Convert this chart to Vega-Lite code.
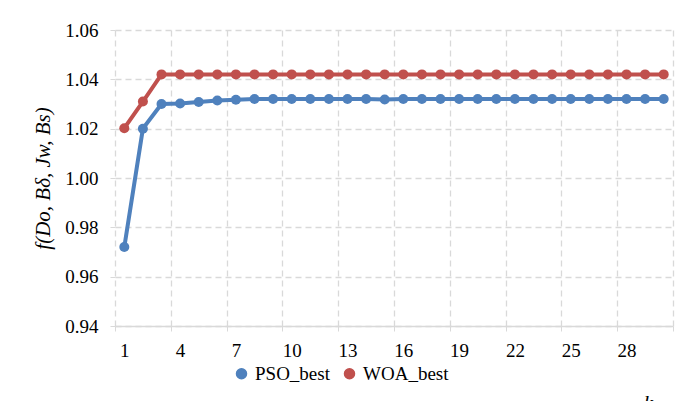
{
  "$schema": "https://vega.github.io/schema/vega-lite/v6.json",
  "width": 558,
  "height": 296,
  "autosize": {"type": "none"},
  "padding": {"left": 115, "top": 30, "right": 9, "bottom": 75},
  "background": "white",
  "config": {"view": {"stroke": null}},
  "data": {
    "values": [
      {"k": 1, "series": "PSO_best", "f": 0.972},
      {"k": 2, "series": "PSO_best", "f": 1.020},
      {"k": 3, "series": "PSO_best", "f": 1.030},
      {"k": 4, "series": "PSO_best", "f": 1.0302},
      {"k": 5, "series": "PSO_best", "f": 1.0308},
      {"k": 6, "series": "PSO_best", "f": 1.0314},
      {"k": 7, "series": "PSO_best", "f": 1.0317},
      {"k": 8, "series": "PSO_best", "f": 1.032},
      {"k": 9, "series": "PSO_best", "f": 1.032},
      {"k": 10, "series": "PSO_best", "f": 1.032},
      {"k": 11, "series": "PSO_best", "f": 1.032},
      {"k": 12, "series": "PSO_best", "f": 1.032},
      {"k": 13, "series": "PSO_best", "f": 1.032},
      {"k": 14, "series": "PSO_best", "f": 1.032},
      {"k": 15, "series": "PSO_best", "f": 1.0318},
      {"k": 16, "series": "PSO_best", "f": 1.032},
      {"k": 17, "series": "PSO_best", "f": 1.032},
      {"k": 18, "series": "PSO_best", "f": 1.032},
      {"k": 19, "series": "PSO_best", "f": 1.032},
      {"k": 20, "series": "PSO_best", "f": 1.032},
      {"k": 21, "series": "PSO_best", "f": 1.032},
      {"k": 22, "series": "PSO_best", "f": 1.032},
      {"k": 23, "series": "PSO_best", "f": 1.032},
      {"k": 24, "series": "PSO_best", "f": 1.032},
      {"k": 25, "series": "PSO_best", "f": 1.032},
      {"k": 26, "series": "PSO_best", "f": 1.032},
      {"k": 27, "series": "PSO_best", "f": 1.032},
      {"k": 28, "series": "PSO_best", "f": 1.032},
      {"k": 29, "series": "PSO_best", "f": 1.032},
      {"k": 30, "series": "PSO_best", "f": 1.032},
      {"k": 1, "series": "WOA_best", "f": 1.0202},
      {"k": 2, "series": "WOA_best", "f": 1.031},
      {"k": 3, "series": "WOA_best", "f": 1.042},
      {"k": 4, "series": "WOA_best", "f": 1.042},
      {"k": 5, "series": "WOA_best", "f": 1.042},
      {"k": 6, "series": "WOA_best", "f": 1.042},
      {"k": 7, "series": "WOA_best", "f": 1.042},
      {"k": 8, "series": "WOA_best", "f": 1.042},
      {"k": 9, "series": "WOA_best", "f": 1.042},
      {"k": 10, "series": "WOA_best", "f": 1.042},
      {"k": 11, "series": "WOA_best", "f": 1.042},
      {"k": 12, "series": "WOA_best", "f": 1.042},
      {"k": 13, "series": "WOA_best", "f": 1.042},
      {"k": 14, "series": "WOA_best", "f": 1.042},
      {"k": 15, "series": "WOA_best", "f": 1.042},
      {"k": 16, "series": "WOA_best", "f": 1.042},
      {"k": 17, "series": "WOA_best", "f": 1.042},
      {"k": 18, "series": "WOA_best", "f": 1.042},
      {"k": 19, "series": "WOA_best", "f": 1.042},
      {"k": 20, "series": "WOA_best", "f": 1.042},
      {"k": 21, "series": "WOA_best", "f": 1.042},
      {"k": 22, "series": "WOA_best", "f": 1.042},
      {"k": 23, "series": "WOA_best", "f": 1.042},
      {"k": 24, "series": "WOA_best", "f": 1.042},
      {"k": 25, "series": "WOA_best", "f": 1.042},
      {"k": 26, "series": "WOA_best", "f": 1.042},
      {"k": 27, "series": "WOA_best", "f": 1.042},
      {"k": 28, "series": "WOA_best", "f": 1.042},
      {"k": 29, "series": "WOA_best", "f": 1.042},
      {"k": 30, "series": "WOA_best", "f": 1.042}
    ]
  },
  "mark": {"type": "line", "strokeWidth": 4, "point": {"filled": true, "size": 100}},
  "encoding": {
    "x": {
      "field": "k",
      "type": "quantitative",
      "scale": {"domain": [0.5, 30.5], "nice": false, "zero": false},
      "axis": {
        "values": [0.5, 3.5, 6.5, 9.5, 12.5, 15.5, 18.5, 21.5, 24.5, 27.5, 30.5],
        "labelExpr": "datum.value > 30 ? '' : format(datum.value + 0.5, 'd')",
        "labelOffset": 9.3,
        "labelFlush": false,
        "grid": true,
        "gridDash": [6, 4],
        "gridColor": "#d9d9d9",
        "gridWidth": 1.3,
        "domainColor": "#d9d9d9",
        "domainWidth": 1.3,
        "tickColor": "#d9d9d9",
        "tickSize": 5,
        "labelFont": "Liberation Serif",
        "labelFontSize": 19,
        "labelPadding": 10,
        "title": "k",
        "titleFont": "Liberation Serif",
        "titleFontStyle": "italic",
        "titleFontWeight": "normal",
        "titleFontSize": 21,
        "titleX": 533,
        "titleY": 66
      }
    },
    "y": {
      "field": "f",
      "type": "quantitative",
      "scale": {"domain": [0.94, 1.06], "nice": false, "zero": false},
      "axis": {
        "values": [0.94, 0.96, 0.98, 1.0, 1.02, 1.04, 1.06],
        "format": ".2f",
        "grid": true,
        "gridDash": [6, 4],
        "gridColor": "#d9d9d9",
        "gridWidth": 1.3,
        "domain": false,
        "tickColor": "#d9d9d9",
        "tickSize": 5,
        "labelFont": "Liberation Serif",
        "labelFontSize": 19,
        "labelPadding": 12,
        "title": "f(Do, Bδ, Jw, Bs)",
        "titleFont": "Liberation Serif",
        "titleFontStyle": "italic",
        "titleFontWeight": "normal",
        "titleFontSize": 21,
        "titleX": -62,
        "titleY": 148,
        "titleAngle": -90
      }
    },
    "color": {
      "field": "series",
      "type": "nominal",
      "scale": {"domain": ["PSO_best", "WOA_best"], "range": ["#4F81BD", "#C0504D"]},
      "legend": {
        "title": null,
        "orient": "none",
        "direction": "horizontal",
        "legendX": 117,
        "legendY": 334,
        "labelFont": "Liberation Serif",
        "labelFontSize": 19,
        "columnPadding": 10
      }
    }
  }
}
